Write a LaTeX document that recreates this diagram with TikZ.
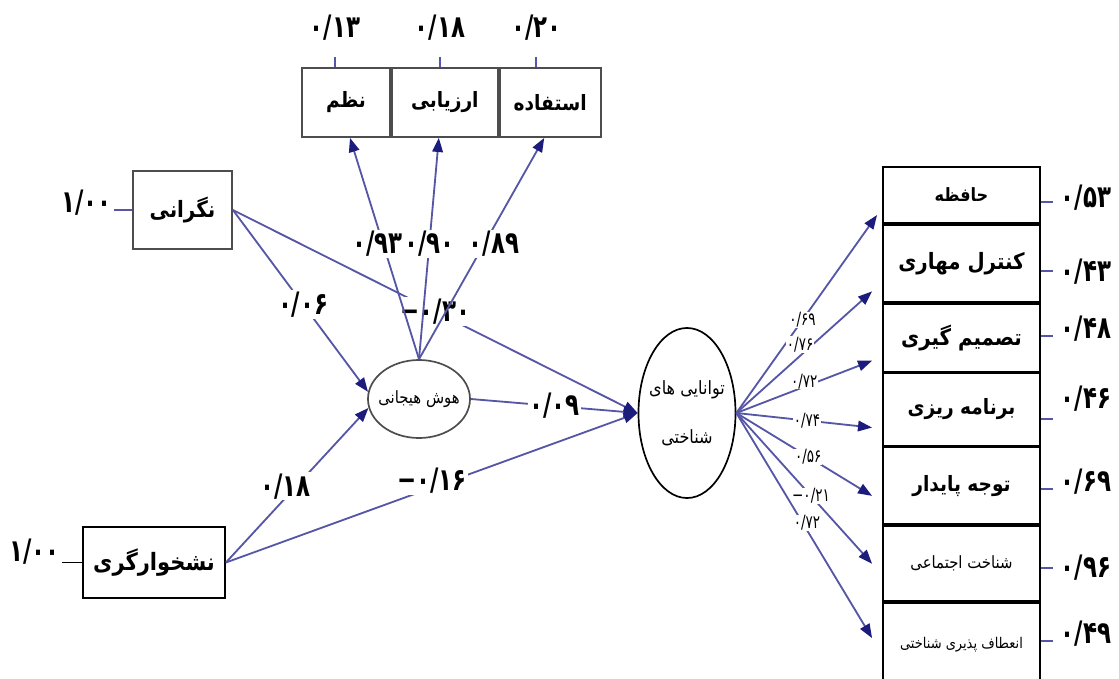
\documentclass[tikz,border=0pt]{standalone}
\usepackage{fontspec}
\newfontfamily\fa[Script=Arabic,FakeStretch=0.88]{DejaVu Sans}
\newfontfamily\fanum[FakeStretch=0.74]{DejaVu Sans}
\TeXXeTstate=1
\usepackage{xcolor}
\definecolor{cPath}{HTML}{5656A6}
\definecolor{cTip}{HTML}{1C1C7C}
\definecolor{cEdge}{HTML}{4D4D4D}
\usepackage{tikz}
\usetikzlibrary{positioning,arrows.meta,calc,shapes.geometric}
\newcommand{\fatxt}[1]{\beginR#1\endR}
\tikzset{
  top-box/.style={draw=cEdge,line width=1.3pt,minimum height=1.725cm,inner sep=1pt,
    font=\fa\bfseries\fontsize{15}{18}\selectfont},
  src-box/.style={draw=cEdge,line width=1.3pt,inner sep=1pt,
    font=\fa\bfseries\fontsize{16}{19}\selectfont},
  out-box/.style={draw=black,line width=1.3pt,minimum width=3.925cm,inner sep=1pt,
    font=\fa\bfseries\fontsize{15}{18}\selectfont},
  latent/.style={ellipse,line width=1.2pt,inner xsep=-9pt,inner ysep=0pt,align=center,
    font=\fa\fontsize{12}{14}\selectfont},
  path-arrow/.style={-{Triangle[length=10pt,width=7.5pt,color=cTip]},line width=1.3pt,draw=cPath},
  err-line/.style={line width=1.4pt,draw=cPath},
  coef/.style={fill=white,inner sep=1pt,text=black,font=\fanum\bfseries\fontsize{22}{24}\selectfont},
  coef-small/.style={fill=white,inner sep=0.5pt,text=black,font=\fanum\fontsize{13}{14}\selectfont},
  err-val/.style={inner sep=1pt,text=black,font=\fanum\bfseries\fontsize{22}{24}\selectfont},
}
\begin{document}
\begin{tikzpicture}[x=0.025cm,y=-0.025cm]
  \useasboundingbox (0,0) rectangle (1119,678);
  % indicators of hoosh
  \node[top-box,minimum width=2.2cm] (nazm) at (346,102.5) {\fatxt{نظم}};
  \node[top-box,minimum width=2.65cm,right=0pt of nazm] (arzyabi) {\fatxt{ارزیابی}};
  \node[top-box,minimum width=2.525cm,right=0pt of arzyabi] (estefade) {\fatxt{استفاده}};

  \node[src-box,minimum width=2.475cm,minimum height=1.95cm] (negarani) at (182.5,210) {\fatxt{نگرانی}};
  \node[src-box,draw=black,minimum width=3.55cm,minimum height=1.775cm,font=\fa\bfseries\fontsize{17}{19}\selectfont] (nashkhar) at (154,562.5) {\fatxt{نشخوارگری}};

  \node[latent,draw=cEdge,minimum width=2.55cm,minimum height=1.95cm] (hoosh) at (419,399) {\fatxt{هوش هیجانی}};
  \node[latent,draw=black,minimum width=2.425cm,minimum height=4.25cm,font=\fa\fontsize{13}{15}\selectfont] (tavanai) at (687,413)
    {\fatxt{توانایی های}\\[7mm]\fatxt{شناختی}};

  % indicators of tavanai
  \node[out-box,minimum height=1.4cm,font=\fa\bfseries\fontsize{13}{16}\selectfont] (hafeze) at (961.5,195) {\fatxt{حافظه}};
  \node[out-box,minimum height=1.925cm,below=0pt of hafeze,font=\fa\bfseries\fontsize{16}{18}\selectfont] (kontrol) {\fatxt{کنترل مهاری}};
  \node[out-box,minimum height=1.7cm,below=0pt of kontrol,font=\fa\bfseries\fontsize{16}{18}\selectfont] (tasmim) {\fatxt{تصمیم گیری}};
  \node[out-box,minimum height=1.8cm,below=0pt of tasmim] (barname) {\fatxt{برنامه ریزی}};
  \node[out-box,minimum height=1.925cm,below=0pt of barname] (tavajoh) {\fatxt{توجه پایدار}};
  \node[out-box,minimum height=1.875cm,below=0pt of tavajoh,font=\fa\fontsize{12}{14}\selectfont] (ejtemai) {\fatxt{شناخت اجتماعی}};
  \node[out-box,minimum height=2.1cm,below=0pt of ejtemai,font=\fa\fontsize{10.5}{12}\selectfont] (enetaf) {\fatxt{انعطاف پذیری شناختی}};

  % error terms
  \draw[err-line] ($(nazm.north)+(-11,0)$) -- ++(0,-10) node[err-val,above=10pt] {۰/۱۳};
  \draw[err-line] ($(arzyabi.north)+(-5,0)$) -- ++(0,-10) node[err-val,above=10pt] {۰/۱۸};
  \draw[err-line] ($(estefade.north)+(-14,0)$) -- ++(0,-10) node[err-val,above=10pt] {۰/۲۰};
  \draw[err-line] (negarani.west) -- ++(-18,0) node[err-val,left=0pt,yshift=5pt] {۱/۰۰};
  \draw[err-line,draw=black] (nashkhar.west) -- ++(-20,0) node[err-val,left=0pt,yshift=8pt] {۱/۰۰};
  \draw[err-line] ($(hafeze.east)+(0,7)$) -- ++(12,0) node[err-val,right=4pt,yshift=3pt] {۰/۵۳};
  \draw[err-line] ($(kontrol.east)+(0,8)$) -- ++(12,0) node[err-val,right=4pt] {۰/۴۳};
  \draw[err-line] ($(tasmim.east)+(0,-2)$) -- ++(12,0) node[err-val,right=4pt,yshift=5pt] {۰/۴۸};
  \draw[err-line] ($(barname.east)+(0,9)$) -- ++(12,0) node[err-val,right=4pt,yshift=14pt] {۰/۴۶};
  \draw[err-line] ($(tavajoh.east)+(0,3)$) -- ++(12,0) node[err-val,right=4pt,yshift=5pt] {۰/۶۹};
  \draw[err-line] ($(ejtemai.east)+(0,4)$) -- ++(12,0) node[err-val,right=4pt] {۰/۹۶};
  \draw[err-line] ($(enetaf.east)+(0,-4)$) -- ++(12,0) node[err-val,right=4pt,yshift=5pt] {۰/۴۹};

  % structural paths
  \draw[path-arrow] (negarani.east) -- node[coef,pos=0.52] {۰/۰۶} (hoosh.172);
  \draw[path-arrow] (nashkhar.east) -- node[coef,pos=0.42,yshift=8pt] {۰/۱۸} (hoosh.190);
  \draw[path-arrow] (negarani.east) -- node[coef,pos=0.5] {−۰/۳۰} (tavanai.west);
  \draw[path-arrow] (nashkhar.east) -- node[coef,pos=0.5,yshift=5pt] {−۰/۱۶} (tavanai.west);
  \draw[path-arrow] (hoosh.east) -- node[coef,pos=0.5] {۰/۰۹} (tavanai.west);

  \draw[path-arrow] (hoosh.north) -- node[coef,pos=0.52,xshift=-4pt] {۰/۹۳} ($(nazm.south)+(4,0)$);
  \draw[path-arrow] (hoosh.north) -- node[coef,pos=0.52] {۰/۹۰} ($(arzyabi.south)+(-6,0)$);
  \draw[path-arrow] (hoosh.north) -- node[coef,pos=0.52,xshift=7pt] {۰/۸۹} ($(estefade.south)+(-6,0)$);

  % loadings of tavanai
  \draw[path-arrow] (tavanai.east) -- node[coef-small,pos=0.47] {۰/۶۹} ($(hafeze.west)+(-5,20)$);
  \draw[path-arrow] (tavanai.east) -- node[coef-small,pos=0.47,yshift=8pt] {۰/۷۶} ($(kontrol.west)+(-10,28)$);
  \draw[path-arrow] (tavanai.east) -- node[coef-small,pos=0.5,yshift=4pt] {۰/۷۲} ($(tasmim.west)+(-10,23)$);
  \draw[path-arrow] (tavanai.east) -- node[coef-small,pos=0.52] {۰/۷۴} ($(barname.west)+(-10,18)$);
  \draw[path-arrow] (tavanai.east) -- node[coef-small,pos=0.53] {۰/۵۶} ($(tavajoh.west)+(-10,10)$);
  \draw[path-arrow] (tavanai.east) -- node[coef-small,pos=0.55] {−۰/۲۱} ($(ejtemai.west)+(-10,0)$);
  \draw[path-arrow] (tavanai.east) -- node[coef-small,pos=0.52,yshift=5pt] {۰/۷۲} ($(enetaf.west)+(-10,-7)$);
\end{tikzpicture}
\end{document}
